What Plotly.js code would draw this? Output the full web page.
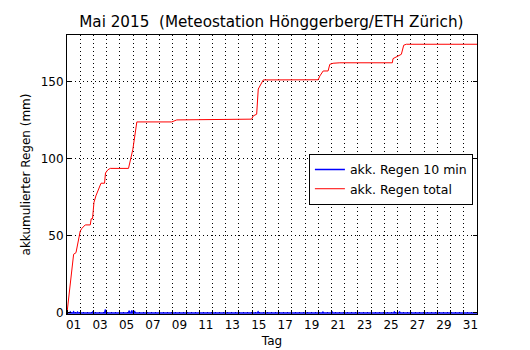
<!DOCTYPE html>
<html>
<head>
<meta charset="utf-8">
<script src="https://cdn.plot.ly/plotly-3.0.1.min.js"></script>
<style>html,body{margin:0;padding:0;background:#fff;}#chart{width:530px;height:350px;}</style>
</head>
<body>
<div id="chart"></div>
<script>
// Day of May as fractional days since May 1 00:00
const totalDay = [0, 0.50, 0.68, 0.88, 1.0, 1.13, 1.38, 1.76, 1.83, 1.93, 2.04, 2.19, 2.38, 2.57, 2.84, 2.91, 3.09, 3.27, 4.65, 4.78, 4.98, 5.28, 7.92, 8.30, 13.96, 14.08, 14.34, 14.46, 14.72, 14.84, 18.99, 19.12, 19.37, 19.74, 19.87, 20.12, 20.63, 24.60, 24.65, 24.91, 25.28, 25.46, 25.66, 31.0];
const totalMm  = [0, 38, 39, 49.6, 53, 54.8, 57, 57, 61, 61, 71.6, 75.9, 79.8, 84, 84, 90.6, 92.7, 93.6, 93.6, 98.5, 106, 123.7, 123.7, 125, 125.5, 127.6, 128.7, 145, 149.2, 150.9, 151, 153.5, 156.7, 156.7, 161, 161.7, 162, 162, 164.7, 166, 167.5, 173.4, 174, 174];

const tenDay = [0, 0.2, 0.25, 0.3, 0.45, 0.5, 0.55, 0.75, 0.8, 0.85, 1.9, 1.95, 2.0, 2.85, 2.9, 2.95, 4.65, 4.7, 4.75, 4.85, 4.9, 4.95, 5.05, 5.1, 5.15, 14.4, 14.45, 14.5, 19.3, 19.35, 19.4, 20.0, 20.05, 20.1, 24.7, 24.75, 24.8, 25.1, 25.15, 25.2, 31];
const tenMm  = [0, 0, 0.6, 0, 0, 0.7, 0, 0, 0.5, 0, 0, 0.6, 0, 0, 2.2, 0, 0, 1.4, 0, 0, 1.6, 0, 0, 1.2, 0, 0, 0.7, 0, 0, 0.5, 0, 0, 0.5, 0, 0, 0.6, 0, 0, 0.6, 0, 0];

const tickPos = [0.5, 2.5, 4.5, 6.5, 8.5, 10.5, 12.5, 14.5, 16.5, 18.5, 20.5, 22.5, 24.5, 26.5, 28.5, 30.5];
const tickLabels = ['01','03','05','07','09','11','13','15','17','19','21','23','25','27','29','31'];
const yTicks = [0, 50, 100, 150];

const font = 'DejaVu Sans, sans-serif';
const traces = [
  {x: tenDay, y: tenMm, type: 'scatter', mode: 'lines', name: 'akk. Regen 10 min', line: {color: '#0000ff', width: 1.5}},
  {x: totalDay, y: totalMm, type: 'scatter', mode: 'lines', name: 'akk. Regen total', line: {color: '#ff0000', width: 1}}
];
const layout = {
  width: 530, height: 350,
  margin: {l: 67, r: 53, t: 35, b: 36},
  paper_bgcolor: '#fff', plot_bgcolor: '#fff',
  font: {family: font, size: 12, color: '#000'},
  title: {text: 'Mai 2015  (Meteostation Hönggerberg/ETH Zürich)', font: {family: font, size: 15.2, color: '#000'}, x: 0.512, xanchor: 'center', y: 0.937, yanchor: 'middle'},
  xaxis: {
    range: [0, 31], tickmode: 'array', tickvals: tickPos, ticktext: tickLabels,
    ticks: '', showgrid: false, zeroline: false,
    showline: true, linecolor: '#000', linewidth: 1, mirror: true,
    tickfont: {family: font, size: 12, color: '#000'},
    title: {text: 'Tag', font: {family: font, size: 12, color: '#000'}, standoff: 5},
    minor: {tickmode: 'linear', tick0: 0, dtick: 1, ticks: 'inside', ticklen: 4, tickcolor: '#000', tickwidth: 1,
            showgrid: true, gridcolor: '#000', gridwidth: 1, griddash: '1px,3px'}
  },
  yaxis: {
    range: [-0.7, 180], tickmode: 'array', tickvals: yTicks,
    ticks: 'inside', ticklen: 4, tickcolor: '#000',
    showgrid: true, gridcolor: '#000', gridwidth: 1, griddash: '1px,3px', zeroline: false,
    showline: true, linecolor: '#000', linewidth: 1, mirror: 'ticks',
    tickfont: {family: font, size: 12, color: '#000'},
    title: {text: 'akkumulierter Regen (mm)', font: {family: font, size: 12, color: '#000'}, standoff: 7}
  },
  legend: {x: 0.59, y: 0.574, xanchor: 'left', yanchor: 'top', bgcolor: '#fff', bordercolor: '#000', borderwidth: 1,
           font: {family: font, size: 12.5, color: '#000'}},
  showlegend: true
};
Plotly.newPlot('chart', traces, layout, {displayModeBar: false, staticPlot: true});
</script>
</body>
</html>
